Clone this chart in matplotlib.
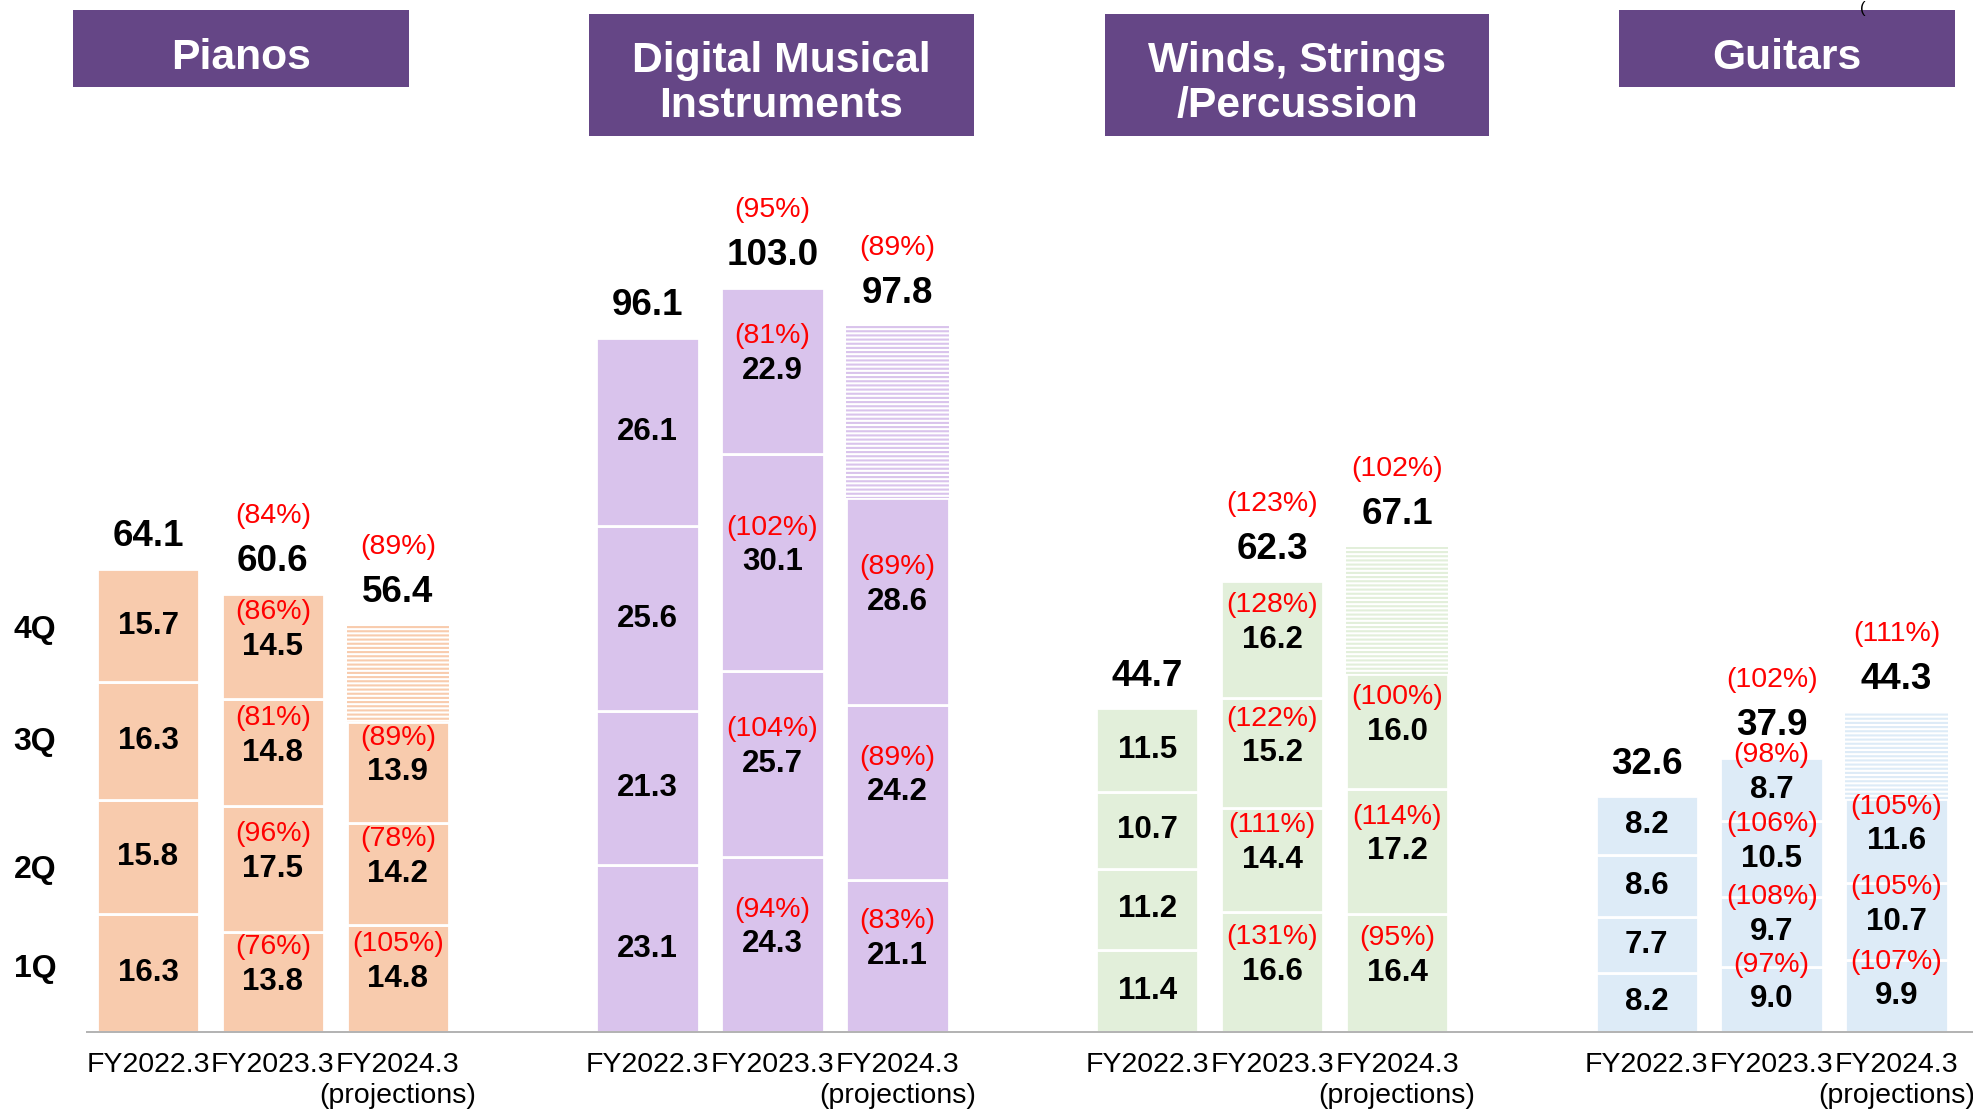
import matplotlib.pyplot as plt
from matplotlib.patches import Rectangle
import matplotlib.transforms as mtransforms

plt.rcParams['font.family'] = ['Liberation Sans', 'DejaVu Sans']
plt.rcParams['hatch.linewidth'] = 1.5

# ---- data (billions of yen), quarters 1Q..4Q ----
years = ['FY2022.3', 'FY2023.3', 'FY2024.3']
quarters = ['1Q', '2Q', '3Q', '4Q']
segments = [['Pianos'], ['Digital Musical', 'Instruments'],
            ['Winds, Strings', '/Percussion'], ['Guitars']]

pianos_q = [[16.3, 15.8, 16.3, 15.7], [13.8, 17.5, 14.8, 14.5], [14.8, 14.2, 13.9]]
pianos_pct = [[None] * 4, [76, 96, 81, 86], [105, 78, 89]]
pianos_total = [64.1, 60.6, 56.4]
pianos_total_pct = [None, 84, 89]

digital_q = [[23.1, 21.3, 25.6, 26.1], [24.3, 25.7, 30.1, 22.9], [21.1, 24.2, 28.6]]
digital_pct = [[None] * 4, [94, 104, 102, 81], [83, 89, 89]]
digital_total = [96.1, 103.0, 97.8]
digital_total_pct = [None, 95, 89]

winds_q = [[11.4, 11.2, 10.7, 11.5], [16.6, 14.4, 15.2, 16.2], [16.4, 17.2, 16.0]]
winds_pct = [[None] * 4, [131, 111, 122, 128], [95, 114, 100]]
winds_total = [44.7, 62.3, 67.1]
winds_total_pct = [None, 123, 102]

guitars_q = [[8.2, 7.7, 8.6, 8.2], [9.0, 9.7, 10.5, 8.7], [9.9, 10.7, 11.6]]
guitars_pct = [[None] * 4, [97, 108, 106, 98], [107, 105, 105]]
guitars_total = [32.6, 37.9, 44.3]
guitars_total_pct = [None, 102, 111]

colors = ['#F8CBAD', '#D9C3EC', '#E2EFDA', '#DDEBF7']
groups = [
    (pianos_q, pianos_pct, pianos_total, pianos_total_pct),
    (digital_q, digital_pct, digital_total, digital_total_pct),
    (winds_q, winds_pct, winds_total, winds_total_pct),
    (guitars_q, guitars_pct, guitars_total, guitars_total_pct),
]

fig = plt.figure(figsize=(19.74, 11.11), dpi=100)
ax = fig.add_axes([0, 0, 1, 1])
ax.set_xlim(-1.185, 14.62)
ax.set_ylim(-10.94, 142.9)
ax.axis('off')

width = 0.82
red = '#FF0000'

for g, (qs, pcts, totals, tpcts) in enumerate(groups):
    col = colors[g]
    for i in range(3):
        x = g * 4 + i
        bottom = 0
        for k, v in enumerate(qs[i]):
            ax.bar(x, v, width=width, bottom=bottom, color=col,
                   edgecolor='white', linewidth=2)
            mid = bottom + v / 2
            ax.text(x, mid, f'{v:.1f}', ha='center', va='center',
                    fontsize=22.5, fontweight='bold')
            if pcts[i][k] is not None:
                ax.text(x, mid + 4.8, f'({pcts[i][k]}%)', ha='center',
                        va='center', fontsize=20.5, color=red)
            bottom += v
        # remaining (projected) part of the year, striped
        rest = totals[i] - bottom
        if len(qs[i]) < 4 and rest > 0:
            ax.bar(x, rest, width=width, bottom=bottom, color='white',
                   edgecolor=col, hatch='----', linewidth=0)
        top = totals[i]
        ax.text(x, top + 4.5, f'{top:.1f}', ha='center', va='center',
                fontsize=26.5, fontweight='bold')
        if tpcts[i] is not None:
            ax.text(x, top + 10.8, f'({tpcts[i]}%)', ha='center',
                    va='center', fontsize=20.5, color=red)
        # category labels
        ax.text(x, -4.6, years[i], ha='center', va='center', fontsize=20.5)
        if i == 2:
            ax.text(x, -8.9, '(projections)', ha='center', va='center',
                    fontsize=20.5)

# baseline
ax.plot([-0.5, 14.62], [0, 0], color='#A6A6A6', linewidth=1.2,
        solid_capstyle='butt')

# quarter labels at the left
quarter_y = [8.7, 22.4, 40.1, 55.6]
for k in range(4):
    ax.text(-0.905, quarter_y[k], quarters[k], ha='center', va='center',
            fontsize=23, fontweight='bold')

# header boxes (x in data, y in axes fraction)
trans = mtransforms.blended_transform_factory(ax.transData, ax.transAxes)
box_x = [(-0.60, 2.09), (3.53, 6.61), (7.66, 10.74), (11.78, 14.47)]
box_y = [(0.9217, 0.991), (0.8776, 0.9874), (0.8776, 0.9874), (0.9217, 0.991)]
base_y = [[0.9375], [0.9355, 0.895], [0.9355, 0.895], [0.9375]]
for g in range(4):
    x0, x1 = box_x[g]
    yb, yt = box_y[g]
    ax.add_patch(Rectangle((x0, yb), x1 - x0, yt - yb, transform=trans,
                           facecolor='#654686', edgecolor='none',
                           clip_on=False))
    for line, yl in zip(segments[g], base_y[g]):
        ax.text((x0 + x1) / 2, yl, line, transform=trans, ha='center',
                va='baseline', fontsize=30.7, fontweight='bold',
                color='white')

# unit note at top right (only its bracket shows)
fig.text(1860 / 1974, 1 - 1 / 1111, '(', ha='left', va='top',
         fontsize=12)

fig.savefig('out.png', dpi=100)
